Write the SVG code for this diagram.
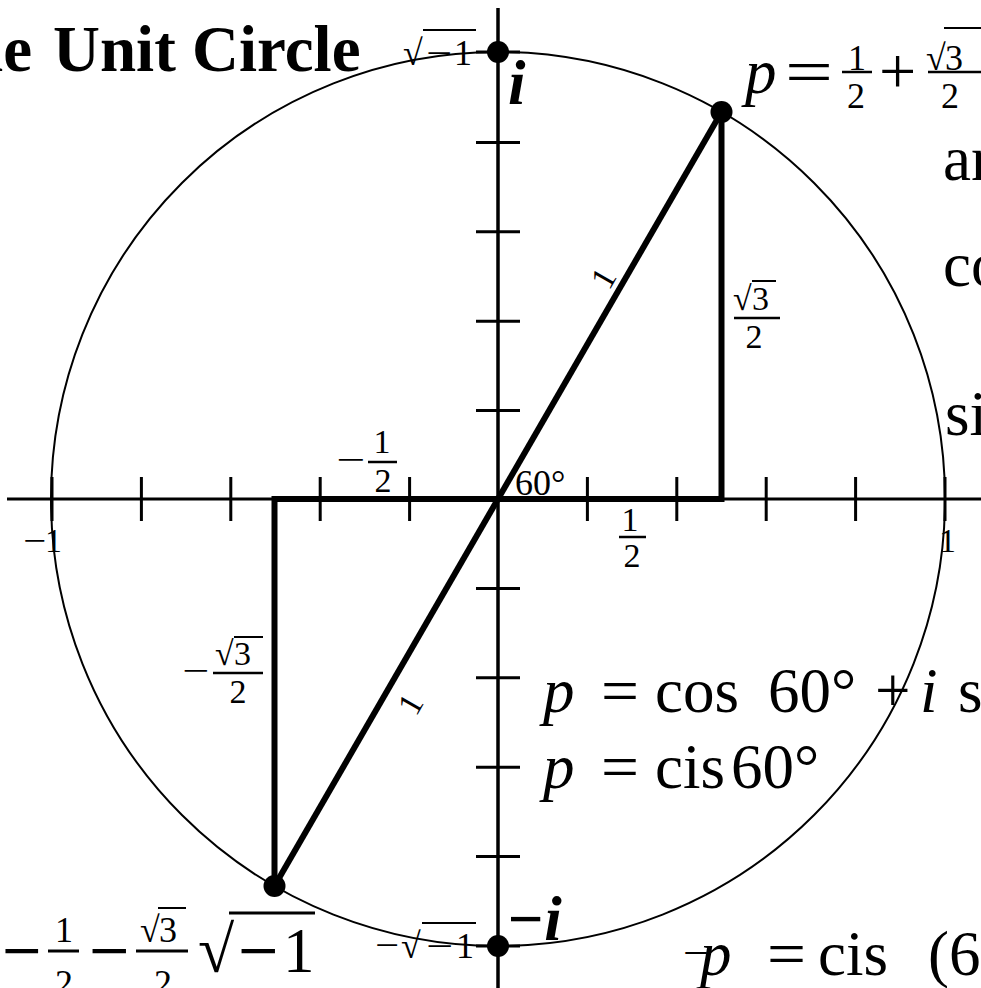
<svg xmlns="http://www.w3.org/2000/svg" width="981" height="988" viewBox="0 0 981 988">
<style>
text{font-family:"Liberation Serif","Times New Roman",serif;fill:#000}
.ax{stroke:#000;stroke-width:3;fill:none}
.tk{stroke:#000;stroke-width:3;fill:none}
.thick{stroke:#000;stroke-width:6;fill:none;stroke-linejoin:miter}
.circ{fill:none;stroke:#000;stroke-width:2}
.bar{stroke:#000;stroke-width:2.5}
.ov{stroke:#000;stroke-width:2}
.sm{font-size:34px}
.fr{font-size:36px}
.big{font-size:63px}
.it{font-style:italic}
.bi{font-style:italic;font-weight:bold}
</style>
<rect width="981" height="988" fill="#fff"/>
<g id="circle"><circle class="circ" cx="498" cy="499" r="447"/></g>
<g id="axes">
<line class="ax" x1="7" y1="499" x2="981" y2="499"/>
<line class="ax" x1="498" y1="8" x2="498" y2="988" style="stroke-width:3.5"/>
</g>
<g id="ticks">
<path class="tk" d="M52,477V521M141.4,477V521M230.8,477V521M320.2,477V521M409.6,477V521M587.4,477V521M676.8,477V521M766.2,477V521M855.6,477V521M945,477V521"/>
<path class="tk" d="M476,142.4H520M476,231.8H520M476,321.2H520M476,410.6H520M476,588.4H520M476,677.8H520M476,767.2H520M476,856.6H520M476,52H520M476,946H520"/>
</g>
<g id="connectors">
<polyline class="thick" points="274.5,886 274.5,499 721.5,499 721.5,112"/>
<line class="thick" x1="721.5" y1="112" x2="274.5" y2="886"/>
</g>
<g id="points">
<circle cx="721.5" cy="112" r="11"/>
<circle cx="274.5" cy="886" r="11"/>
<circle cx="498" cy="52" r="11"/>
<circle cx="498" cy="946" r="11"/>
</g>
<g id="title">
<text x="32" y="71" font-size="65" font-weight="bold" text-anchor="end">The</text>
<text x="53" y="71" font-size="65" font-weight="bold">Unit Circle</text>
</g>
<g id="label-sqrt-top">
<text class="fr" x="403" y="65">√</text>
<line class="ov" x1="423" y1="30" x2="476" y2="30"/>
<text class="fr" x="426" y="65" textLength="26" lengthAdjust="spacingAndGlyphs">−</text>
<text class="fr" x="454" y="65">1</text>
</g>
<g id="label-i"><text class="bi big" x="508" y="104">i</text></g>
<g id="label-minus-i"><text class="bi big" x="506" y="940">−i</text></g>
<g id="label-neg-sqrt-bottom">
<text class="fr" x="375" y="957" textLength="24" lengthAdjust="spacingAndGlyphs">−</text>
<text class="fr" x="401" y="958">√</text>
<line class="ov" x1="422" y1="923" x2="476" y2="923"/>
<text class="fr" x="426" y="958" textLength="27" lengthAdjust="spacingAndGlyphs">−</text>
<text class="fr" x="456" y="958">1</text>
</g>
<g id="label-p-top">
<text class="it big" x="745" y="93">p</text>
<text class="big" x="785" y="93" textLength="48" lengthAdjust="spacingAndGlyphs">=</text>
<text class="fr" x="857" y="70" text-anchor="middle">1</text>
<line class="bar" x1="842" y1="72" x2="872" y2="72"/>
<text class="fr" x="856" y="108" text-anchor="middle">2</text>
<text x="879" y="93" font-size="66">+</text>
<text class="fr" x="926" y="70">√</text>
<line class="ov" x1="944" y1="28" x2="981" y2="28"/>
<text class="fr" x="945" y="70">3</text>
<line class="bar" x1="928" y1="72" x2="981" y2="72"/>
<text class="fr" x="950" y="108" text-anchor="middle">2</text>
</g>
<g id="text-right">
<text class="big" x="943" y="180">and</text>
<text class="big" x="943" y="286">cos</text>
<text class="big" x="945" y="435">sin</text>
</g>
<g id="label-sqrt3-2">
<text class="sm" x="733" y="310">√</text>
<line class="ov" x1="752" y1="281" x2="776" y2="281"/>
<text class="sm" x="752" y="310">3</text>
<line class="bar" x1="734" y1="318" x2="780" y2="318"/>
<text class="sm" x="754" y="348" text-anchor="middle">2</text>
</g>
<g id="label-neg-half">
<text class="sm" x="336" y="471" textLength="29" lengthAdjust="spacingAndGlyphs">−</text>
<text class="sm" x="382" y="453" text-anchor="middle">1</text>
<line class="bar" x1="368" y1="462" x2="397" y2="462"/>
<text class="sm" x="383" y="492" text-anchor="middle">2</text>
</g>
<g id="label-60"><text class="fr" x="515" y="495">60°</text></g>
<g id="label-half">
<text class="sm" x="630" y="531" text-anchor="middle">1</text>
<line class="bar" x1="619" y1="537" x2="646" y2="537"/>
<text class="sm" x="632" y="567" text-anchor="middle">2</text>
</g>
<g id="label-neg1"><text class="sm" x="23" y="552" textLength="23" lengthAdjust="spacingAndGlyphs">−</text><text class="sm" x="45" y="552">1</text></g>
<g id="label-1"><text class="sm" x="939" y="552">1</text></g>
<g id="label-hyp-top"><text class="sm" text-anchor="middle" transform="translate(603,278) rotate(-60)" dy="0.35em">1</text></g>
<g id="label-hyp-bottom"><text class="sm" text-anchor="middle" transform="translate(410,704) rotate(-60)" dy="0.35em">1</text></g>
<g id="label-neg-sqrt3-2">
<text class="sm" x="182" y="682" textLength="27" lengthAdjust="spacingAndGlyphs">−</text>
<text class="sm" x="215" y="665">√</text>
<line class="ov" x1="234" y1="637" x2="263" y2="637"/>
<text class="sm" x="234" y="665">3</text>
<line class="bar" x1="213" y1="673" x2="263" y2="673"/>
<text class="sm" x="238" y="703" text-anchor="middle">2</text>
</g>
<g id="eq-cos">
<text class="big" y="712"><tspan class="it" x="543">p</tspan><tspan x="601" textLength="38" lengthAdjust="spacingAndGlyphs">=</tspan><tspan x="655">cos</tspan><tspan x="768">60°</tspan><tspan x="875">+</tspan><tspan class="it" x="920">i</tspan><tspan x="958">sin 60°</tspan></text>
</g>
<g id="eq-cis">
<text class="big" y="788"><tspan class="it" x="543">p</tspan><tspan x="601" textLength="38" lengthAdjust="spacingAndGlyphs">=</tspan><tspan x="655">cis</tspan><tspan x="731">60°</tspan></text>
</g>
<g id="eq-neg-p">
<text x="683" y="966" font-size="40" textLength="26" lengthAdjust="spacingAndGlyphs">−</text>
<text class="big" y="975"><tspan class="it" x="700">p</tspan><tspan x="767" textLength="39" lengthAdjust="spacingAndGlyphs">=</tspan><tspan x="818">cis</tspan><tspan x="928">(60°</tspan></text>
</g>
<g id="eq-bottom-left">
<text class="big" x="2" y="972" font-weight="bold" textLength="40" lengthAdjust="spacingAndGlyphs">−</text>
<text class="fr" x="64" y="942" text-anchor="middle">1</text>
<line class="bar" x1="48" y1="951" x2="79" y2="951" style="stroke-width:3"/>
<text class="fr" x="64" y="995" text-anchor="middle">2</text>
<text class="big" x="89" y="972" font-weight="bold" textLength="41" lengthAdjust="spacingAndGlyphs">−</text>
<text class="fr" x="140" y="942">√</text>
<line class="ov" x1="158" y1="908" x2="186" y2="908"/>
<text class="fr" x="159" y="942">3</text>
<line class="bar" x1="136" y1="951" x2="188" y2="951" style="stroke-width:3"/>
<text class="fr" x="163" y="995" text-anchor="middle">2</text>
<text x="198" y="972" font-size="66">√</text>
<line class="bar" x1="229" y1="913" x2="315" y2="913" style="stroke-width:3"/>
<text class="big" x="238" y="972" font-weight="bold" textLength="41" lengthAdjust="spacingAndGlyphs">−</text>
<text class="big" x="283" y="972">1</text>
</g>
</svg>
